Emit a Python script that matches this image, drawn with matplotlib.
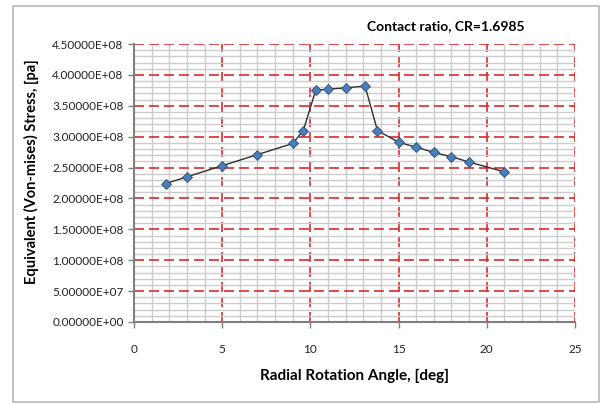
import matplotlib
matplotlib.use("Agg")
import matplotlib.pyplot as plt
import numpy as np
from matplotlib.patches import Rectangle
from matplotlib.ticker import MultipleLocator, FuncFormatter

plt.rcParams['font.family'] = ['Lato', 'DejaVu Sans']

# rotation angle [deg] and von-mises stress [Pa]
angle = [1.8, 3.0, 5.0, 7.0, 9.0, 9.6, 10.3, 11.0, 12.0, 13.1, 13.8,
         15.0, 16.0, 17.0, 18.0, 19.0, 21.0]
stress = [2.24e8, 2.35e8, 2.53e8, 2.71e8, 2.89e8, 3.10e8, 3.75e8, 3.77e8,
          3.79e8, 3.82e8, 3.10e8, 2.91e8, 2.83e8, 2.745e8, 2.675e8, 2.59e8,
          2.43e8]

title = "Contact ratio, CR=1.6985"
xlabel = "Radial Rotation Angle, [deg]"
ylabel = "Equivalent (Von-mises) Stress, [pa]"

fig = plt.figure(figsize=(6, 4.04), dpi=100)
ax = fig.add_axes([0.2233, 0.203, 0.735, 0.688])

# outer frame like the spreadsheet chart area
fig.patches.append(Rectangle((13 / 600, 2 / 404), 586 / 600, 396 / 404,
                             transform=fig.transFigure, fill=False,
                             edgecolor='#b8b8c4', linewidth=1.2))

ax.set_xlim(0, 25)
ax.set_ylim(0, 4.5e8)
ax.xaxis.set_major_locator(MultipleLocator(5))
ax.xaxis.set_minor_locator(MultipleLocator(1))
ax.yaxis.set_major_locator(MultipleLocator(0.5e8))
ax.yaxis.set_minor_locator(MultipleLocator(0.1e8))
ax.yaxis.set_major_formatter(FuncFormatter(lambda v, p: "%.5E" % v))

ax.grid(which='minor', color='#cccccc', linewidth=1.0, linestyle='-')
ax.grid(which='major', color='#dc2a2a', linewidth=1.2, linestyle=(0, (6, 3)))
ax.set_axisbelow(True)

ax.plot(angle, stress, color='#303030', linewidth=1.0, marker='D',
        markersize=5, markerfacecolor='#4a7ebb', markeredgecolor='#2c4d75',
        markeredgewidth=0.6, zorder=3)

for s in ['top', 'right']:
    ax.spines[s].set_visible(False)
for s in ['left', 'bottom']:
    ax.spines[s].set_color('#808080')
    ax.spines[s].set_linewidth(1.5)

ax.tick_params(which='major', direction='out', length=4, width=1,
               color='#808080', labelsize=8.5, labelcolor='#222222')
ax.tick_params(which='minor', length=0)
ax.tick_params(axis='x', pad=12)

ax.set_xlabel(xlabel, fontsize=11, fontweight='bold', labelpad=10)
ax.set_ylabel(ylabel, fontsize=10.5, fontweight='bold')
ax.yaxis.set_label_coords(-0.215, 0.54)
fig.text(0.743, 0.935, title, fontsize=10, fontweight='bold', ha='center',
         va='center')

fig.savefig("out.png", dpi=100)
